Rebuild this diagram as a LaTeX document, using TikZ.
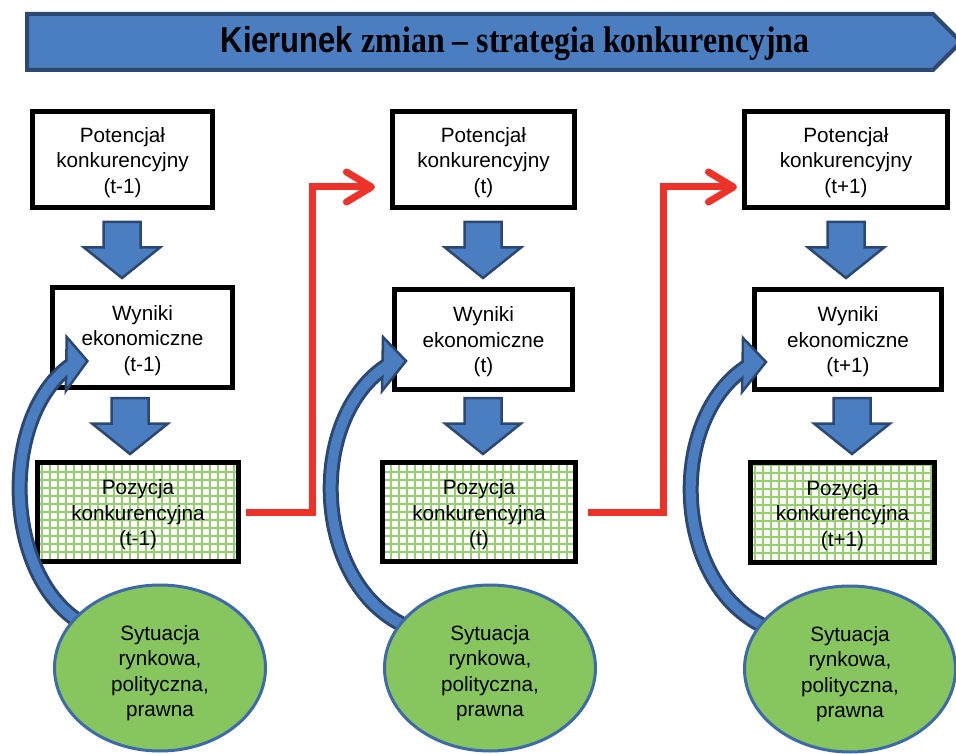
\documentclass[tikz,border=0pt]{standalone}
\usepackage{fontspec}
\setmainfont{Liberation Serif}
\setsansfont{Liberation Sans}
\usepackage{graphicx}
\usetikzlibrary{shapes.geometric,arrows.meta,calc}
\definecolor{bfill}{RGB}{74,126,193}
\definecolor{bdark}{RGB}{44,72,112}
\definecolor{gfill}{RGB}{135,197,95}
\definecolor{gline}{RGB}{150,208,110}
\definecolor{eborder}{RGB}{62,106,170}
\definecolor{rline}{RGB}{237,50,42}
\newcommand\mytxt{\sffamily\fontsize{20.7}{25.5}\selectfont}
\newcommand\blockarr[1]{\draw[barrow, shift={#1}] (-18.5,-27.5) -- (18.5,-27.5) -- (18.5,-2) -- (38,-2) -- (0,28.5) -- (-38,-2) -- (-18.5,-2) -- cycle;}
\newcommand\curvarr[3]{%
\begin{scope}[shift={(#1,#2)}, xscale=#3]
 \draw[line width=16pt, bdark] (-80,-40) .. controls (-178,-80) and (-185,-250) .. (-102,-303);
 \draw[fill=bfill, draw=bdark, line width=2.5pt, line join=miter] (-84,-307) -- (-107,-331) -- (-108,-277) -- cycle;
 \draw[line width=10pt, bfill] (-80,-40) .. controls (-178,-80) and (-185,-250) .. (-102,-303);
\end{scope}}
\tikzset{
 box/.style={draw=black, line width=5pt, fill=white, inner sep=0pt},
 txt/.style={label={[font=\mytxt, align=center, yshift=-3pt]center:{#1}}},
 gridbox/.style={box, path picture={\draw[gline, line width=2pt, step=8pt] (path picture bounding box.south west) grid (path picture bounding box.north east);}},
 barrow/.style={fill=bfill, draw=bdark, line width=2.5pt, line join=miter},
 redarr/.style={draw=rline, line width=7pt, -{Straight Barb[length=25pt,width=30pt,round]}},
 ell/.style={ellipse, draw=eborder, line width=3pt, fill=gfill, minimum width=211pt, minimum height=166pt, inner sep=0pt,
   label={[font=\mytxt, align=center, yshift=-5pt]center:{Sytuacja\\rynkowa,\\polityczna,\\prawna}}},
}
\begin{document}
\begin{tikzpicture}[x=1pt,y=-1pt]
\useasboundingbox (0,0) rectangle (956,754);
\fill[white] (0,0) rectangle (956,754);
% banner
\draw[fill=bfill, draw=bdark, line width=4pt, line join=miter] (27,14) -- (933,14) -- (961,42) -- (933,70) -- (27,70) -- cycle;
\node[inner sep=0pt] (title) at (515,44) {\scalebox{0.86}[1]{{\sffamily\bfseries\fontsize{36}{36}\selectfont Kierunek\ }{\rmfamily\bfseries\fontsize{37}{37}\selectfont zmian – strategia konkurencyjna}}};
% column 1
\node[box, minimum width=180pt, minimum height=96pt, txt={Potencjał\\konkurencyjny\\(t-1)}] (pot1) at (122.5,159.5) {};
\node[box, minimum width=180pt, minimum height=100pt, txt={Wyniki\\ekonomiczne\\(t-1)}] (wyn1) at (142.5,337.5) {};
\node[gridbox, minimum width=201pt, minimum height=99pt, txt={Pozycja\\konkurencyjna\\(t-1)}] (poz1) at (138,512) {};
% column 2
\node[box, minimum width=182pt, minimum height=96pt, txt={Potencjał\\konkurencyjny\\(t)}] (pot2) at (483.5,159.5) {};
\node[box, minimum width=178pt, minimum height=100pt, txt={Wyniki\\ekonomiczne\\(t)}] (wyn2) at (483.5,339) {};
\node[gridbox, minimum width=193pt, minimum height=99pt, txt={Pozycja\\konkurencyjna\\(t)}] (poz2) at (479,512) {};
% column 3
\node[box, minimum width=203pt, minimum height=96pt, txt={Potencjał\\konkurencyjny\\(t+1)}] (pot3) at (846,159.5) {};
\node[box, minimum width=187pt, minimum height=100pt, txt={Wyniki\\ekonomiczne\\(t+1)}] (wyn3) at (848,339) {};
\node[gridbox, minimum width=184pt, minimum height=100pt, txt={Pozycja\\konkurencyjna\\(t+1)}] (poz3) at (842.5,512.5) {};
% block arrows
\blockarr{(122,249.5)}
\blockarr{(130,425.5)}
\blockarr{(483,249.5)}
\blockarr{(483,425.5)}
\blockarr{(846,249.5)}
\blockarr{(852,425.5)}
% red connectors
\coordinate (r1) at (375,187);
\coordinate (r2) at (737,187);
\draw[redarr] ([xshift=5pt]poz1.east) -- ++(66,0) |- (r1);
\draw[redarr] ([xshift=10pt]poz2.east) -- ++(75,0) |- (r2);
% curved arrows
\curvarr{163}{668}{0.9}
\curvarr{490}{668}{1}
\curvarr{850}{669}{1}
% ellipses
\node[ell] (e1) at (160,668) {};
\node[ell] (e2) at (490,668) {};
\node[ell] (e3) at (850,669) {};
\end{tikzpicture}
\end{document}
